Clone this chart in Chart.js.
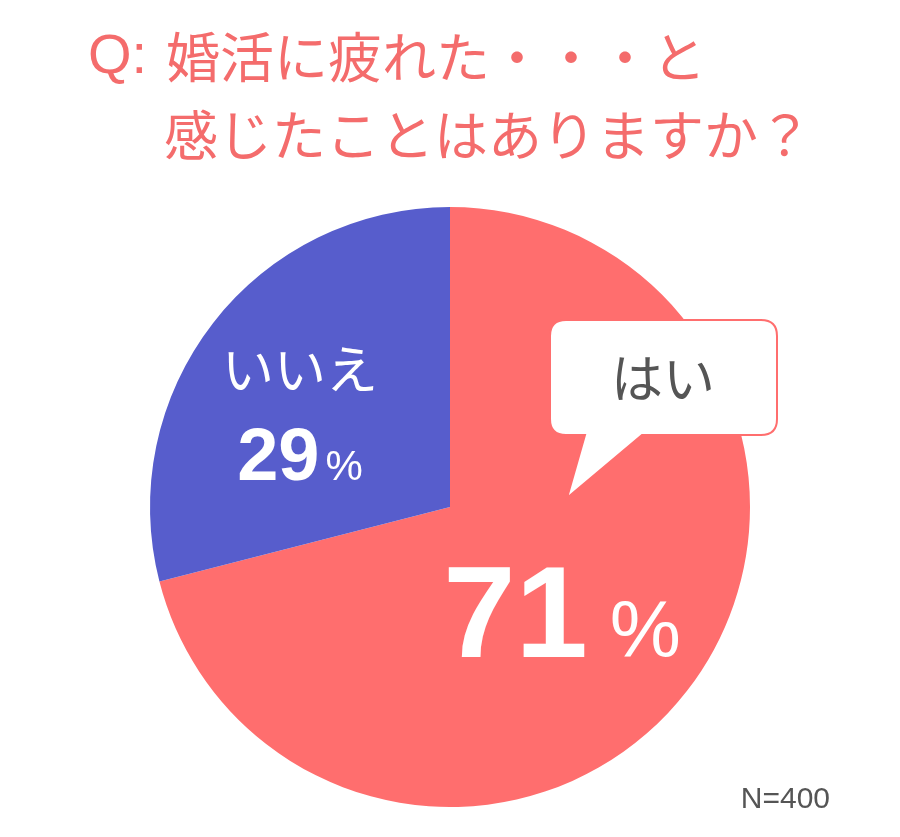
<!DOCTYPE html>
<html>
<head>
<meta charset="utf-8">
<script src="https://cdn.jsdelivr.net/npm/chart.js@4"></script>
<style>
  body { margin: 0; background: #fff; }
  canvas { display: block; }
</style>
</head>
<body>
<canvas id="myChart" width="900" height="837"></canvas>
<script>
var labels = ["はい", "いいえ"];
var values = [71, 29];
var colors = ["#ff6e6e", "#575dcc"];
var titleLines = ["Q:", "婚活に疲れた・・・と", "感じたことはありますか？"];
var sampleNote = "N=400";

var jp = '"Noto Sans CJK JP", "Noto Sans", sans-serif';
var num = '"Liberation Sans", Arial, sans-serif';

function pct(ctx, x, y, n, bigSize, smallSize, gap) {
  ctx.font = "bold " + bigSize + "px " + num;
  var w1 = ctx.measureText(n).width;
  ctx.font = smallSize + "px " + num;
  var w2 = ctx.measureText("%").width;
  var left = x - (w1 + gap + w2) / 2;
  ctx.textAlign = "left";
  ctx.textBaseline = "alphabetic";
  ctx.font = "bold " + bigSize + "px " + num;
  ctx.fillText(n, left, y);
  ctx.font = smallSize + "px " + num;
  ctx.fillText("%", left + w1 + gap, y);
}

var overlay = {
  id: "overlay",
  afterDraw: function(chart) {
    var ctx = chart.ctx;
    var arc = chart.getDatasetMeta(0).data[0];
    var cx = arc.x, cy = arc.y;
    ctx.save();

    // title
    ctx.fillStyle = "#f46c6c";
    ctx.textBaseline = "middle";
    ctx.textAlign = "left";
    ctx.font = "56px " + num;
    ctx.fillText(titleLines[0], 88, 58);
    ctx.font = "54px " + jp;
    ctx.fillText(titleLines[1], 166, 57);
    ctx.fillText(titleLines[2], 164, 135);

    // いいえ label
    ctx.fillStyle = "#ffffff";
    ctx.textAlign = "center";
    ctx.font = "52px " + jp;
    ctx.fillText(labels[1], cx - 150, cy - 138);
    pct(ctx, cx - 150, cy - 27, String(values[1]), 74, 42, 6);

    // 71% label
    pct(ctx, cx + 112, cy + 150, String(values[0]), 130, 80, 22);

    // speech bubble
    var bx = cx + 100, by = cy - 187, bw = 227, bh = 115, rad = 16;
    ctx.beginPath();
    ctx.moveTo(bx + rad, by);
    ctx.lineTo(bx + bw - rad, by);
    ctx.quadraticCurveTo(bx + bw, by, bx + bw, by + rad);
    ctx.lineTo(bx + bw, by + bh - rad);
    ctx.quadraticCurveTo(bx + bw, by + bh, bx + bw - rad, by + bh);
    ctx.lineTo(bx + 92, by + bh);
    ctx.lineTo(bx + 17, by + 178);
    ctx.lineTo(bx + 35, by + bh);
    ctx.lineTo(bx + rad, by + bh);
    ctx.quadraticCurveTo(bx, by + bh, bx, by + bh - rad);
    ctx.lineTo(bx, by + rad);
    ctx.quadraticCurveTo(bx, by, bx + rad, by);
    ctx.closePath();
    ctx.fillStyle = "#ffffff";
    ctx.fill();
    ctx.strokeStyle = "#ff6e6e";
    ctx.lineWidth = 2;
    ctx.stroke();

    ctx.fillStyle = "#555555";
    ctx.font = "52px " + jp;
    ctx.textAlign = "center";
    ctx.textBaseline = "middle";
    ctx.fillText(labels[0], bx + 113, by + 58);

    // sample size
    ctx.fillStyle = "#555555";
    ctx.font = "30px " + num;
    ctx.textAlign = "right";
    ctx.textBaseline = "alphabetic";
    ctx.fillText(sampleNote, 830, 808);

    ctx.restore();
  }
};

new Chart("myChart", {
  type: "pie",
  data: {
    labels: labels,
    datasets: [{
      data: values,
      backgroundColor: colors,
      borderWidth: 0
    }]
  },
  options: {
    responsive: false,
    animation: false,
    layout: { padding: { top: 207, bottom: 30, left: 150, right: 150 } },
    plugins: {
      legend: { display: false },
      tooltip: { enabled: false },
      title: { display: false }
    }
  },
  plugins: [overlay]
});
</script>
</body>
</html>
